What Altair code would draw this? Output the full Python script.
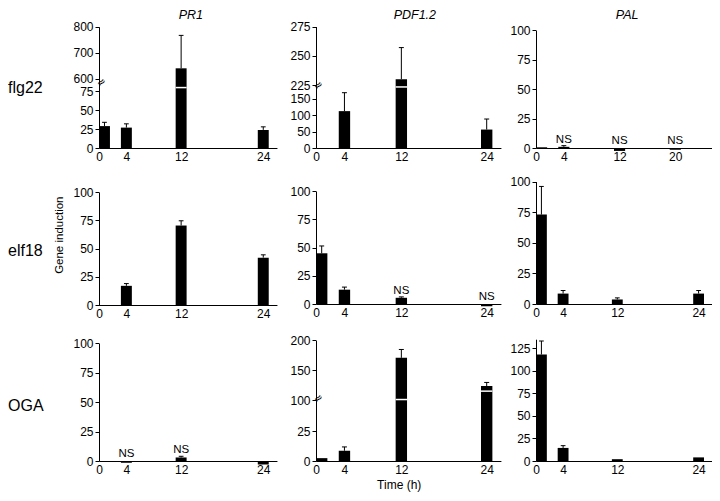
import altair as alt
import pandas as pd

# ---------------- data ----------------
genes = ["PR1", "PDF1.2", "PAL"]
elicitors = ["flg22", "elf18", "OGA"]

hours = [0, 4, 12, 24]
hours_pal_flg22 = [0, 4, 12, 20]

pr1_flg22 = [29, 27, 640, 24]
pr1_flg22_err = [34, 32, 767, 28]
pdf_flg22 = [0, 112, 230, 56]
pdf_flg22_err = [None, 168, 257, 88]
pal_flg22 = [0.6, 1.0, -2.5, -1.5]
pal_flg22_err = [None, 2.0, None, None]

pr1_elf18 = [-0.8, 17, 70.5, 42]
pr1_elf18_err = [None, 19, 74.7, 44.5]
pdf_elf18 = [45, 12.7, 5.5, -2]
pdf_elf18_err = [51.5, 15, 6.3, None]
pal_elf18 = [73, 8.5, 3.7, 8.5]
pal_elf18_err = [96, 11, 5, 11]

pr1_oga = [0, -1.5, 3, -3]
pr1_oga_err = [None, None, 4, None]
pdf_oga = [2.4, 8.6, 171, 124]
pdf_oga_err = [None, 11.8, 185, 130]
pal_oga = [118, 14.5, 2, 4]
pal_oga_err = [133, 17, None, None]

ns_pal_flg22 = [0, 1, 1, 1]
ns_pdf_elf18 = [0, 0, 1, 1]
ns_pr1_oga = [0, 1, 1, 0]
no_ns = [0, 0, 0, 0]

values = {
    ("PR1", "flg22"): (hours, pr1_flg22, pr1_flg22_err, no_ns),
    ("PDF1.2", "flg22"): (hours, pdf_flg22, pdf_flg22_err, no_ns),
    ("PAL", "flg22"): (hours_pal_flg22, pal_flg22, pal_flg22_err, ns_pal_flg22),
    ("PR1", "elf18"): (hours, pr1_elf18, pr1_elf18_err, no_ns),
    ("PDF1.2", "elf18"): (hours, pdf_elf18, pdf_elf18_err, ns_pdf_elf18),
    ("PAL", "elf18"): (hours, pal_elf18, pal_elf18_err, no_ns),
    ("PR1", "OGA"): (hours, pr1_oga, pr1_oga_err, ns_pr1_oga),
    ("PDF1.2", "OGA"): (hours, pdf_oga, pdf_oga_err, no_ns),
    ("PAL", "OGA"): (hours, pal_oga, pal_oga_err, no_ns),
}

# ---------------- layout (reference pixels -> chart pixels) ----------------
W, H = 704, 485
FONT = "Liberation Sans"


def px(x):
    return (x - 2) * 0.978


def py(y):
    return (y - 4) * 0.975


xrange_ = {
    ("PR1", "flg22"): (95, 277), ("PDF1.2", "flg22"): (317, 506), ("PAL", "flg22"): (542, 727),
    ("PR1", "elf18"): (95, 277), ("PDF1.2", "elf18"): (317, 506), ("PAL", "elf18"): (542, 722),
    ("PR1", "OGA"): (95, 277), ("PDF1.2", "OGA"): (317, 506), ("PAL", "OGA"): (542, 722),
}

t100 = [0, 25, 50, 75, 100]
yspec = {
    ("PR1", "flg22"): dict(domain=[0, 75, 600, 800], range=[148, 89.5, 76.5, 23.3],
                           ticks=[0, 25, 50, 75, 600, 700, 800], brk=337, cuts=([12], [232])),
    ("PDF1.2", "flg22"): dict(domain=[0, 175, 225, 275], range=[148, 88.5, 83, 23],
                              ticks=[0, 50, 100, 150, 225, 250, 275], brk=198, cuts=([12], [207])),
    ("PAL", "flg22"): dict(domain=[0, 100], range=[148, 27], ticks=t100),
    ("PR1", "elf18"): dict(domain=[0, 100], range=[309, 193], ticks=t100),
    ("PDF1.2", "elf18"): dict(domain=[0, 100], range=[308, 192], ticks=t100),
    ("PAL", "elf18"): dict(domain=[0, 100], range=[308, 182], ticks=t100),
    ("PR1", "OGA"): dict(domain=[0, 100], range=[469, 348], ticks=t100),
    ("PDF1.2", "OGA"): dict(domain=[0, 50, 100, 200], range=[469, 407.5, 406.5, 345],
                            ticks=[0, 25, 100, 150, 200], brk=75, cuts=([12, 24], [101.5, 115.5])),
    ("PAL", "OGA"): dict(domain=[0, 135], range=[469, 343.7], ticks=[0, 25, 50, 75, 100, 125]),
}

axis_common = dict(grid=False, title=None, domainColor="black", domainWidth=1,
                   labelColor="black", labelFont=FONT, labelFontSize=12,
                   labelOverlap=False, labelFlush=False, format="d")


def add_x(chart):
    return (chart.transform_calculate(x0="max(datum.t - 0.8, 0)")
            .transform_calculate(x1="datum.x0 + 1.6", xc="datum.x0 + 0.8",
                                 cl="datum.x0 + 0.45", cr="datum.x0 + 1.15"))


def panel(gene, elic):
    times, vals, errs, ns = values[(gene, elic)]
    spec = yspec[(gene, elic)]
    xr = xrange_[(gene, elic)]
    x_left = round(px(xr[0]))
    y_base = round(py(spec["range"][0]))
    df = pd.DataFrame({"t": times, "v": vals, "e": errs, "ns": ns})
    xs = alt.Scale(domain=[0, 26], range=[x_left, px(xr[1])], nice=False, zero=False)
    ys = alt.Scale(domain=spec["domain"],
                   range=[y_base] + [py(r) for r in spec["range"][1:]], nice=False, zero=False)
    xaxis = alt.Axis(orient="bottom", offset=y_base - H, values=times,
                     ticks=False, labelPadding=3, **axis_common)
    yaxis = alt.Axis(orient="left", offset=-x_left, values=spec["ticks"], ticks=True,
                     tickSize=4, tickColor="black", labelPadding=2, **axis_common)

    base = add_x(alt.Chart(df)).transform_calculate(top="max(datum.v, 0)")
    bars = base.mark_bar(color="black").encode(
        x=alt.X("x0:Q", scale=xs, axis=xaxis), x2="x1:Q",
        y=alt.Y("v:Q", scale=ys, axis=yaxis), y2=alt.datum(0))
    withe = base.transform_filter("isValid(datum.e)")
    err = withe.mark_rule(color="black", strokeWidth=1).encode(
        x=alt.X("xc:Q", scale=xs, axis=None), y=alt.Y("v:Q", scale=ys, axis=None), y2="e:Q")
    cap = withe.mark_rule(color="black", strokeWidth=1).encode(
        x=alt.X("cl:Q", scale=xs, axis=None), x2="cr:Q", y=alt.Y("e:Q", scale=ys, axis=None))
    nst = base.transform_filter("datum.ns == 1").mark_text(
        text="NS", baseline="bottom", dy=-2, fontSize=11.5, font=FONT, color="black").encode(
        x=alt.X("xc:Q", scale=xs, axis=None), y=alt.Y("top:Q", scale=ys, axis=None))
    layers = [bars, err, cap, nst]
    if "cuts" in spec:
        cdf = pd.DataFrame({"t": spec["cuts"][0], "c": spec["cuts"][1]})
        cut = add_x(alt.Chart(cdf)).mark_rule(color="white", strokeWidth=1.5).encode(
            x=alt.X("x0:Q", scale=xs, axis=None), x2="x1:Q", y=alt.Y("c:Q", scale=ys, axis=None))
        bdf = pd.DataFrame({"z": [0], "b": [spec["brk"]]})
        brk = alt.Chart(bdf).mark_text(text="≈", angle=320, fontSize=11, dx=3.5, font="DejaVu Sans",
                                       color="black").encode(
            x=alt.X("z:Q", scale=xs, axis=None), y=alt.Y("b:Q", scale=ys, axis=None))
        layers += [cut, brk]
    return layers


def label(text, x, y, **kw):
    style = dict(font=FONT, color="black")
    style.update(kw)
    return alt.Chart(pd.DataFrame({"s": [text]})).mark_text(**style).encode(
        x=alt.value(px(x)), y=alt.value(py(y)), text="s:N")


marks = []
for e in elicitors:
    for g in genes:
        marks += panel(g, e)

labels = [
    label("PR1", 189, 11, fontSize=12.5, fontStyle="italic"),
    label("PDF1.2", 418, 11, fontSize=12.5, fontStyle="italic"),
    label("PAL", 635, 11, fontSize=12.5, fontStyle="italic"),
    label("flg22", 2, 86, fontSize=16, align="left", baseline="middle"),
    label("elf18", 2, 253, fontSize=16, align="left", baseline="middle"),
    label("OGA", 2, 412, fontSize=16, align="left", baseline="middle"),
    label("Gene induction", 55, 237, fontSize=11.5, angle=270, baseline="middle"),
    label("Time (h)", 402, 493, fontSize=12, baseline="middle"),
]

chart = (alt.layer(*marks, *labels)
         .resolve_scale(x="independent", y="independent")
         .resolve_axis(x="independent", y="independent")
         .properties(width=W, height=H, padding=0,
                     autosize=alt.AutoSizeParams(type="none"), background="white")
         .configure_view(stroke=None))

chart.save("out.html", embed_options={"renderer": "svg", "actions": False})
